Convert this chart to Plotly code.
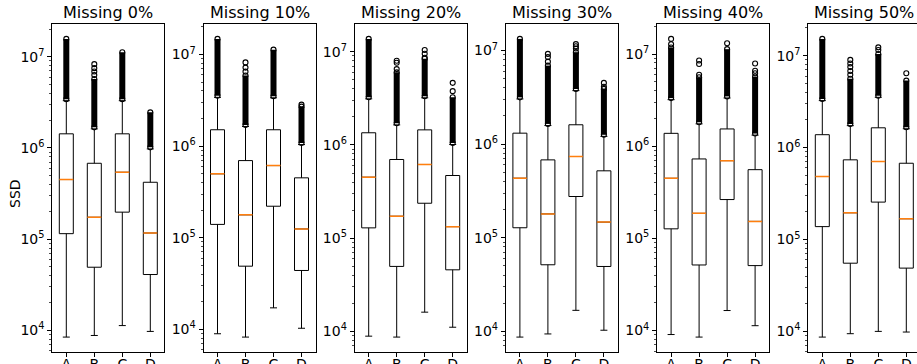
import math
import plotly.graph_objects as go

# ---------------- data ----------------
categories = ["A", "B", "C", "D"]
panel_titles = ["Missing 0%", "Missing 10%", "Missing 20%", "Missing 30%", "Missing 40%", "Missing 50%"]
y_label = "SSD"

lower_whisker = [
    [8.45e3, 8.8e3, 1.13e4, 9.75e3],
    [8.97e3, 8.25e3, 1.72e4, 1.03e4],
    [8.9e3, 8.7e3, 1.61e4, 1.11e4],
    [8.7e3, 9.4e3, 1.68e4, 1.03e4],
    [9.06e3, 8.5e3, 1.65e4, 1.13e4],
    [8.67e3, 9.44e3, 1.0e4, 9.84e3],
]
q1 = [
    [1.15e5, 4.93e4, 1.98e5, 4.10e4],
    [1.40e5, 4.90e4, 2.21e5, 4.40e4],
    [1.29e5, 4.98e4, 2.37e5, 4.58e4],
    [1.28e5, 5.15e4, 2.76e5, 4.94e4],
    [1.27e5, 5.15e4, 2.64e5, 5.07e4],
    [1.38e5, 5.52e4, 2.55e5, 4.88e4],
]
median = [
    [4.51e5, 1.74e5, 5.42e5, 1.17e5],
    [4.99e5, 1.78e5, 6.14e5, 1.25e5],
    [4.51e5, 1.72e5, 6.17e5, 1.33e5],
    [4.33e5, 1.80e5, 7.38e5, 1.47e5],
    [4.49e5, 1.87e5, 6.98e5, 1.53e5],
    [4.84e5, 1.95e5, 7.05e5, 1.68e5],
]
q3 = [
    [1.43e6, 6.80e5, 1.43e6, 4.21e5],
    [1.51e6, 6.96e5, 1.51e6, 4.51e5],
    [1.35e6, 6.98e5, 1.45e6, 4.70e5],
    [1.31e6, 6.79e5, 1.61e6, 5.19e5],
    [1.38e6, 7.28e5, 1.54e6, 5.57e5],
    [1.38e6, 7.35e5, 1.64e6, 6.75e5],
]
upper_whisker = [
    [3.30e6, 1.62e6, 3.30e6, 9.77e5],
    [3.41e6, 1.64e6, 3.37e6, 1.04e6],
    [3.12e6, 1.64e6, 3.20e6, 1.01e6],
    [3.04e6, 1.58e6, 3.73e6, 1.21e6],
    [3.20e6, 1.75e6, 3.34e6, 1.32e6],
    [3.24e6, 1.73e6, 3.52e6, 1.60e6],
]
# top of the dense (overlapping) outlier band
dense_outlier_top = [
    [1.57e7, 5.7e6, 1.12e7, 2.46e6],
    [1.48e7, 5.9e6, 1.13e7, 2.7e6],
    [1.37e7, 6.0e6, 8.4e6, 3.24e6],
    [1.33e7, 6.9e6, 9.6e6, 3.89e6],
    [1.18e7, 5.6e6, 1.13e7, 5.7e6],
    [1.52e7, 5.6e6, 1.04e7, 5.35e6],
]
# isolated outliers above the dense band
sparse_outliers = [
    [[], [6.3e6, 6.9e6, 7.5e6, 8.3e6], [], []],
    [[], [6.5e6, 7.2e6, 8.2e6], [], [2.84e6]],
    [[], [6.5e6, 7.6e6, 8.0e6], [8.6e6, 9.5e6, 1.04e7], [3.77e6, 4.63e6]],
    [[], [7.6e6, 8.5e6, 9.2e6], [1.05e7, 1.11e7, 1.17e7], [4.1e6, 4.51e6]],
    [[1.28e7, 1.46e7], [5.97e6, 7.8e6, 8.5e6], [1.31e7], [6.2e6, 6.6e6, 7.9e6]],
    [[], [6.2e6, 6.8e6, 7.5e6, 8.2e6, 8.98e6], [1.15e7, 1.23e7], [6.43e6]],
]

# ---------------- layout geometry ----------------
W, H = 917, 364
left0, pitch, pw = 52.3, 151.2, 112.0
top_px, bottom_px = 24.0, 352.0
FONT = "DejaVu Sans"
positions = [1, 2, 3, 4]
box_w = 0.5

fig = go.Figure()
layout = dict(
    width=W, height=H,
    margin=dict(l=0, r=0, t=0, b=0, pad=0, autoexpand=False),
    paper_bgcolor="white", plot_bgcolor="white",
    showlegend=False,
    font=dict(family=FONT, size=14, color="black"),
    boxmode="overlay",
)
annotations = []

ydom = [(H - bottom_px) / H, (H - top_px) / H]

for i in range(6):
    sfx = "" if i == 0 else str(i + 1)
    xr, yr = "x" + sfx, "y" + sfx

    # main boxes
    fig.add_trace(go.Box(
        x=positions, q1=q1[i], median=median[i], q3=q3[i],
        lowerfence=lower_whisker[i], upperfence=upper_whisker[i],
        width=box_w, whiskerwidth=0.5,
        line=dict(color="black", width=1), fillcolor="rgba(0,0,0,0)",
        xaxis=xr, yaxis=yr, hoverinfo="skip", boxpoints=False,
    ))
    # orange median lines
    fig.add_trace(go.Box(
        x=positions, q1=median[i], median=median[i], q3=median[i],
        lowerfence=median[i], upperfence=median[i],
        width=box_w, whiskerwidth=0,
        line=dict(color="#ff7f0e", width=1.5), fillcolor="rgba(0,0,0,0)",
        xaxis=xr, yaxis=yr, hoverinfo="skip", boxpoints=False,
    ))
    # dense outlier bands
    bx, by = [], []
    for p, lo, hi in zip(positions, upper_whisker[i], dense_outlier_top[i]):
        bx += [p, p, None]
        by += [lo * 1.04, hi, None]
    fig.add_trace(go.Scatter(
        x=bx, y=by, mode="lines", line=dict(color="black", width=6),
        xaxis=xr, yaxis=yr, hoverinfo="skip",
    ))
    # individual outlier circles
    mx, my = [], []
    for p, pts, hi, lo in zip(positions, sparse_outliers[i], dense_outlier_top[i], upper_whisker[i]):
        for v in pts + [hi, lo * 1.04]:
            mx.append(p)
            my.append(v)
    fig.add_trace(go.Scatter(
        x=mx, y=my, mode="markers",
        marker=dict(symbol="circle-open", size=5, color="black", line=dict(width=1.1, color="black")),
        xaxis=xr, yaxis=yr, hoverinfo="skip",
    ))

    # y range from data with 5% log padding (matplotlib-like autoscale)
    all_hi = [v for pts in sparse_outliers[i] for v in pts] + dense_outlier_top[i]
    lo_l = math.log10(min(lower_whisker[i]))
    hi_l = math.log10(max(all_hi))
    pad = 0.05 * (hi_l - lo_l)
    yrange = [lo_l - pad, hi_l + pad]
    decades = [e for e in range(2, 9) if yrange[0] <= e <= yrange[1]]
    minor_vals = [m * 10 ** e for e in range(2, 9) for m in range(2, 10)
                  if yrange[0] <= math.log10(m * 10 ** e) <= yrange[1]]

    x0 = left0 + i * pitch
    x1 = x0 + pw
    last = x1 > W
    dom = [x0 / W, min(x1, W) / W]
    xhi = 0.5 + 4.0 * (min(x1, W) - x0) / pw

    layout["xaxis" + sfx] = dict(
        domain=dom, anchor=yr, range=[0.5, xhi], automargin=False,
        tickmode="array", tickvals=positions, ticktext=categories,
        ticks="outside", ticklen=4, tickwidth=1, tickcolor="black",
        ticklabelstandoff=-5,
        showline=True, linecolor="black", linewidth=1, mirror=True,
        showgrid=False, zeroline=False, fixedrange=True,
        tickfont=dict(size=14, family=FONT, color="black"),
    )
    layout["yaxis" + sfx] = dict(
        domain=ydom, anchor=xr, type="log", range=yrange, automargin=False,
        tickmode="array", tickvals=[10 ** e for e in decades],
        ticktext=["10<sup>%d</sup>" % e for e in decades],
        ticks="outside", ticklen=4, tickwidth=1, tickcolor="black",
        minor=dict(tickmode="array", tickvals=minor_vals, ticks="outside",
                   ticklen=2, tickwidth=0.7, tickcolor="black", showgrid=False),
        showline=True, linecolor="black", linewidth=1, mirror=(not last),
        showgrid=False, zeroline=False, fixedrange=True,
        tickfont=dict(size=14, family=FONT, color="black"),
    )
    annotations.append(dict(
        text=panel_titles[i], x=(x0 + x1) / 2 / W, y=ydom[1],
        xref="paper", yref="paper", xanchor="center", yanchor="bottom",
        yshift=0, showarrow=False, font=dict(size=16, family=FONT, color="black"),
    ))

annotations.append(dict(
    text=y_label, x=15 / W, y=(H - 194) / H, xref="paper", yref="paper",
    xanchor="center", yanchor="middle", textangle=-90, showarrow=False,
    font=dict(size=14, family=FONT, color="black"),
))
layout["annotations"] = annotations
fig.update_layout(**layout)
fig.write_html(
    "out.html",
    config={"displayModeBar": False, "staticPlot": True},
    post_script="document.body.style.margin='0';document.body.style.overflow='hidden';",
)
